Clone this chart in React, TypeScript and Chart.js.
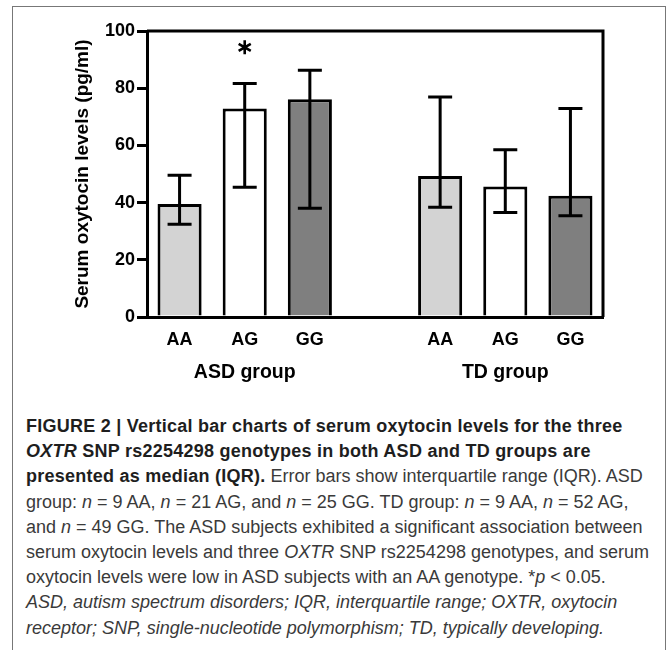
import React, { useEffect, useRef } from "react";
import { Chart, registerables } from "chart.js";

Chart.register(...registerables);

// ---- data ----
const categories = ["AA", "AG", "GG", "", "AA", "AG", "GG"];
const medians = [39.5, 72.9, 76.1, null, 49.3, 45.6, 42.4];
const lowerQ = [32.4, 45.4, 38.0, null, 38.4, 36.5, 35.4];
const upperQ = [49.6, 81.6, 86.3, null, 76.9, 58.5, 72.9];
const barColors = ["#d3d3d3", "#ffffff", "#7f7f7f", "#ffffff", "#d3d3d3", "#ffffff", "#7f7f7f"];
const groupLabels = ["ASD group", "TD group"];
const groupCenterIndex = [1, 5];
const sigIndex = [1];
const sigValue = [94.3];
const yTicks = [0, 20, 40, 60, 80, 100];
const yTitle = "Serum oxytocin levels (pg/ml)";

const FONT = '"Liberation Sans", Arial, Helvetica, sans-serif';

const overlayPlugin = {
  id: "overlay",
  afterDatasetsDraw(chart: any) {
    const { ctx, chartArea, scales } = chart;
    const xs = scales.x;
    const ys = scales.y;
    ctx.save();
    // plot frame (top and right)
    ctx.strokeStyle = "#000";
    ctx.lineWidth = 3;
    ctx.beginPath();
    ctx.moveTo(chartArea.left, chartArea.top);
    ctx.lineTo(chartArea.right, chartArea.top);
    ctx.lineTo(chartArea.right, chartArea.bottom);
    ctx.stroke();
    // error bars
    ctx.lineWidth = 3;
    for (let i = 0; i < categories.length; i++) {
      const lo = lowerQ[i];
      const hi = upperQ[i];
      if (lo == null || hi == null) continue;
      const x = xs.getPixelForValue(i);
      const yl = ys.getPixelForValue(lo);
      const yh = ys.getPixelForValue(hi);
      const cap = 12;
      ctx.beginPath();
      ctx.moveTo(x, yl);
      ctx.lineTo(x, yh);
      ctx.moveTo(x - cap, yl);
      ctx.lineTo(x + cap, yl);
      ctx.moveTo(x - cap, yh);
      ctx.lineTo(x + cap, yh);
      ctx.stroke();
    }
    // significance asterisks
    ctx.lineWidth = 2.6;
    for (let k = 0; k < sigIndex.length; k++) {
      const cx = xs.getPixelForValue(sigIndex[k]);
      const cy = ys.getPixelForValue(sigValue[k]);
      const r = 7;
      ctx.beginPath();
      for (const a of [90, 30, 150]) {
        const rad = (a * Math.PI) / 180;
        ctx.moveTo(cx - r * Math.cos(rad), cy - r * Math.sin(rad));
        ctx.lineTo(cx + r * Math.cos(rad), cy + r * Math.sin(rad));
      }
      ctx.stroke();
    }
    // group labels
    ctx.fillStyle = "#000";
    ctx.font = `bold 19.5px ${FONT}`;
    ctx.textAlign = "center";
    ctx.textBaseline = "alphabetic";
    for (let g = 0; g < groupLabels.length; g++) {
      const x = xs.getPixelForValue(groupCenterIndex[g]);
      ctx.fillText(groupLabels[g], x, xs.bottom - 22);
    }
    ctx.restore();
  },
};

function BarChart() {
  const ref = useRef<HTMLCanvasElement>(null);
  useEffect(() => {
    if (!ref.current) return;
    const chart = new Chart(ref.current, {
      type: "bar",
      data: {
        labels: categories,
        datasets: [
          {
            data: medians as any,
            backgroundColor: barColors,
            borderColor: "#000",
            borderWidth: 3,
            borderSkipped: "start",
            barPercentage: 0.677,
            categoryPercentage: 1,
          },
        ],
      },
      options: {
        responsive: false,
        animation: false,
        layout: { padding: { left: 0, top: 31, right: 64, bottom: 0 } },
        plugins: { legend: { display: false }, tooltip: { enabled: false } },
        scales: {
          x: {
            z: 1,
            afterFit: (s: any) => {
              s.height = 83;
            },
            grid: { display: false, drawTicks: false },
            border: { display: true, color: "#000", width: 3 },
            ticks: {
              autoSkip: false,
              maxRotation: 0,
              padding: 12,
              color: "#000",
              font: { family: FONT, size: 18, weight: "bold" },
            },
          },
          y: {
            min: 0,
            max: 100,
            afterFit: (s: any) => {
              s.width = 147;
            },
            afterBuildTicks: (s: any) => {
              s.ticks = yTicks.map((v) => ({ value: v }));
            },
            grid: {
              display: true,
              drawOnChartArea: false,
              drawTicks: true,
              tickLength: 10,
              tickColor: "#000",
              lineWidth: 3,
            },
            border: { display: true, color: "#000", width: 3 },
            ticks: {
              padding: 2,
              color: "#000",
              font: { family: FONT, size: 18, weight: "bold" },
            },
            title: {
              display: true,
              text: yTitle,
              color: "#000",
              font: { family: FONT, size: 19, weight: "bold" },
              padding: { top: 71, bottom: 0 },
            },
          },
        },
      },
      plugins: [overlayPlugin],
    });
    return () => chart.destroy();
  }, []);
  return (
    <canvas
      ref={ref}
      width={667}
      height={400}
      style={{ position: "absolute", left: 0, top: 0, width: 667, height: 400 }}
    />
  );
}

const boldStyle: React.CSSProperties = { fontWeight: 700, color: "#1e1e1e", letterSpacing: "0.25px" };

export default function App() {
  return (
    <div
      style={{
        position: "absolute",
        left: 0,
        top: 0,
        width: 667,
        height: 650,
        background: "#fff",
        overflow: "hidden",
      }}
    >
      <div
        style={{
          position: "absolute",
          left: 12,
          top: 6,
          width: 652,
          height: 700,
          borderTop: "1px solid #777",
          borderLeft: "1px solid #777",
          borderRight: "1px solid #777",
        }}
      />
      <BarChart />
      <div
        style={{
          position: "absolute",
          left: 26,
          top: 414,
          width: 635,
          fontFamily: FONT,
          fontSize: 18,
          lineHeight: "25.2px",
          color: "#3a3a3a",
          whiteSpace: "nowrap",
        }}
      >
        <div style={boldStyle}>
          FIGURE 2 | Vertical bar charts of serum oxytocin levels for the three
        </div>
        <div style={boldStyle}>
          <i>OXTR</i> SNP rs2254298 genotypes in both ASD and TD groups are
        </div>
        <div>
          <b style={boldStyle}>presented as median (IQR).</b>
          <span> Error bars show interquartile range (IQR). ASD</span>
        </div>
        <div>
          group: <i>n</i> = 9 AA, <i>n</i> = 21 AG, and <i>n</i> = 25 GG. TD group: <i>n</i> = 9 AA, <i>n</i> = 52 AG,
        </div>
        <div>
          and <i>n</i> = 49 GG. The ASD subjects exhibited a significant association between
        </div>
        <div>
          serum oxytocin levels and three <i>OXTR</i> SNP rs2254298 genotypes, and serum
        </div>
        <div>
          oxytocin levels were low in ASD subjects with an AA genotype. *<i>p</i> &lt; 0.05.
        </div>
        <div>
          <i>ASD, autism spectrum disorders; IQR, interquartile range; OXTR, oxytocin</i>
        </div>
        <div>
          <i>receptor; SNP, single-nucleotide polymorphism; TD, typically developing.</i>
        </div>
      </div>
    </div>
  );
}
